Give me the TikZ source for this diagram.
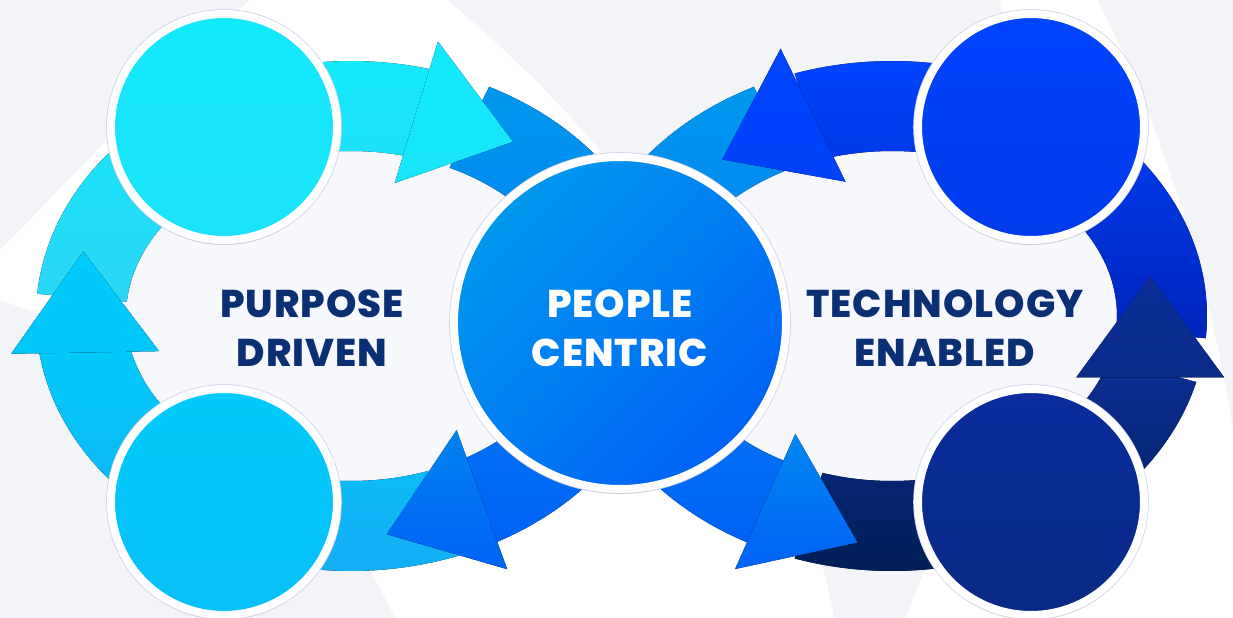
\documentclass[tikz,border=0pt]{standalone}
\usepackage{fontspec}
\newfontfamily\labelfont{Poppins}[UprightFont=* ExtraBold, LetterSpace=2.5]
\usetikzlibrary{calc}
\usetikzlibrary{shadows}
\definecolor{bggrey}{HTML}{F3F4F8}
\definecolor{innergrey}{HTML}{F7F8FB}
\definecolor{rimline}{HTML}{D2D3EA}
\definecolor{textnavy}{HTML}{0B2F74}
\definecolor{cyanA}{HTML}{14E8FD}
\definecolor{cyanB}{HTML}{2AD6F5}
\definecolor{skyA}{HTML}{00CBFB}
\definecolor{skyB}{HTML}{14AEF4}
\definecolor{azureA}{HTML}{0098EE}
\definecolor{azureB}{HTML}{0062F6}
\definecolor{royalA}{HTML}{0044FF}
\definecolor{royalB}{HTML}{0024BC}
\definecolor{navyA}{HTML}{0C2E96}
\definecolor{navyB}{HTML}{001E56}
\newcommand{\ringband}[6]{% centre x, centre y, from, to, top colour, bottom colour
  \fill[top color=#5, bottom color=#6]
    plot[domain=#3:#4, samples=60, variable=\t] ({#1+315*cos(\t)}, {#2+255*sin(\t)})
    -- plot[domain=#3:#4, samples=60, variable=\t] ({#1+225*cos(#3+#4-\t)}, {#2+165*sin(#3+#4-\t)})
    -- cycle;}
\newcommand{\ringhead}[6]{% centre x, centre y, base angle, pointing angle, top colour, bottom colour
  \coordinate (hb) at ({#1+270*cos(#3)}, {#2+210*sin(#3)});
  \fill[top color=#5, bottom color=#6] ($(hb)+(#4+90:74)$) -- ($(hb)+(#4:101)$)
    -- ($(hb)+(#4-90:74)$) -- cycle;}
\tikzset{
  bubble/.style={circle, inner sep=0pt, outer sep=0pt, draw=white, line width=6pt,
    preaction={draw=rimline, line width=7.2pt},
    drop shadow={opacity=0.08, shadow xshift=0pt, shadow yshift=-4pt}},
  small bubble/.style={bubble, minimum size=169.5pt},
  ringtext/.style={font=\labelfont\fontsize{29}{36.75}\selectfont, align=center, text=textnavy}
}

\begin{document}
\begin{tikzpicture}[x=0.75pt, y=-0.75pt]
\useasboundingbox (0,0) rectangle (1233,618);
\clip (0,0) rectangle (1233,618);
\fill[bggrey] (0,0) rectangle (1233,618); %background
\fill[white] (250,0) -- (447,0) .. controls (640,160) and (790,380) .. (834,618)
  -- (395,618) .. controls (330,480) and (200,370) .. (0,300) -- (0,250) .. controls (80,170) and (170,70) .. (250,0) -- cycle;
\fill[white] (1000,0) -- (1097,0) .. controls (1160,120) and (1210,280) .. (1233,430)
  -- (1233,618) -- (905,618) .. controls (990,420) and (1030,200) .. (1000,0) -- cycle;
\fill[innergrey] (351,316) ellipse [x radius=230, y radius=170]; %ring insides
\fill[innergrey] (892,316) ellipse [x radius=230, y radius=170];

\ringband{351}{316}{70}{172}{skyA}{skyB} %left loop
\ringband{351}{316}{185}{286}{cyanA}{cyanB}
\ringband{351}{316}{296}{423}{azureA}{azureB}
\ringband{892}{316}{-108}{5}{royalA}{royalB} %right loop
\ringband{892}{316}{117}{244}{azureA}{azureB}
\ringband{892}{316}{15}{108}{navyA}{navyB}

\ringhead{351}{316}{170}{-91}{skyA}{skyA!90!azureA} %arrow heads
\ringhead{351}{316}{284}{17}{cyanA}{cyanA!85!cyanB}
\ringhead{351}{316}{61}{160}{azureA!60!azureB}{azureB}
\ringhead{892}{316}{253}{154}{royalA}{royalA!90!royalB}
\ringhead{892}{316}{17}{-90}{navyA}{navyA!80!navyB}
\ringhead{892}{316}{118}{24}{azureA!70!azureB}{azureB}

\node[small bubble, top color=cyanA, bottom color=cyanA!70!cyanB] (purposeTop) at (224,127) {}; %circles
\node[small bubble, top color=skyA, bottom color=skyA!60!skyB] (purposeBottom) at (224,502) {};
\node[small bubble, top color=royalA, bottom color=royalA!70!royalB] (techTop) at (1031,127) {};
\node[small bubble, top color=navyA!80!royalB, bottom color=navyA!70!navyB] (techBottom) at (1031,502) {};
\node[bubble, minimum size=249pt, top color=azureA, bottom color=azureB, shading angle=45] (people) at (620,323) {};

\node[ringtext] (purpose) at (312,328) {PURPOSE\\DRIVEN}; %labels
\node[ringtext, text=white] (centric) at (people.center |- purpose.center) {PEOPLE\\CENTRIC};
\node[ringtext] (tech) at (945,328) {TECHNOLOGY\\ENABLED};
\end{tikzpicture}
\end{document}
